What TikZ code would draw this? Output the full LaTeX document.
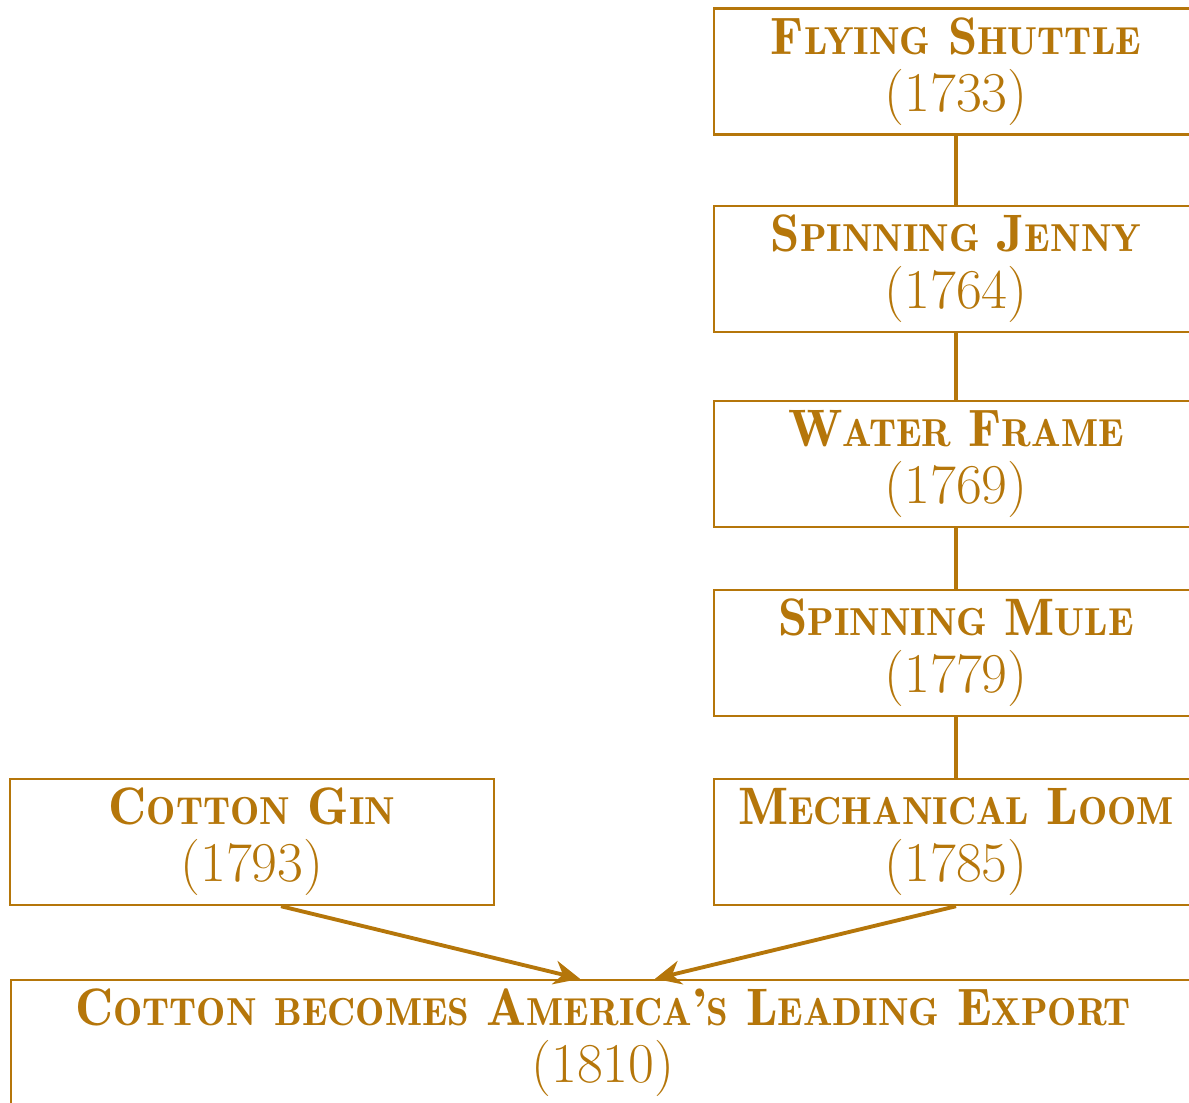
\documentclass[tikz,border=0pt]{standalone}
\usetikzlibrary{arrows.meta, calc}
\definecolor{gold}{RGB}{181,118,10}
\newcommand\fsc[2]{#1{\fontsize{11.1}{14}\selectfont #2}}
\newcommand\ttl[1]{{\fontseries{b}\selectfont #1}}
\newcommand\yr[1]{{\fontsize{16}{16.2}\selectfont(#1)}}

\begin{document}
\begin{tikzpicture}[box/.style={draw=gold, line width=0.7pt, minimum width=4.84cm, minimum height=1.26cm, align=center, text=gold, font=\fontsize{15}{16.2}\selectfont, inner sep=0pt}, link/.style={draw=gold, line width=1.1pt}, arr/.style={-{Stealth[length=2.6mm, width=2.4mm]}, draw=gold, line width=1.1pt}]
\useasboundingbox (0,0) rectangle (11.89,-11.03);

\node[box] (shuttle) at (9.56,-0.715) {\ttl{\fsc{F}{LYING} \fsc{S}{HUTTLE}}\\\yr{1733}};
\node[box] (jenny) at (9.56,-2.69) {\ttl{\fsc{S}{PINNING} \fsc{J}{ENNY}}\\\yr{1764}};
\node[box] (water) at (9.56,-4.64) {\ttl{\fsc{W}{ATER} \fsc{F}{RAME}}\\\yr{1769}};
\node[box] (mule) at (9.56,-6.53) {\ttl{\fsc{S}{PINNING} \fsc{M}{ULE}}\\\yr{1779}};
\node[box] (loom) at (9.56,-8.42) {\ttl{\fsc{M}{ECHANICAL} \fsc{L}{OOM}}\\\yr{1785}};
\node[box] (gin) at (2.52,-8.42) {\ttl{\fsc{C}{OTTON} \fsc{G}{IN}}\\\yr{1793}};
\node[box, minimum width=11.84cm] (export) at (6.03,-10.43) {\ttl{\fsc{C}{OTTON} \fsc{}{BECOMES} \fsc{A}{MERICA}’\fsc{}{S} \fsc{L}{EADING} \fsc{E}{XPORT}}\\\yr{1810}};

\draw[link] (shuttle) -- (jenny); \draw[link] (jenny) -- (water); \draw[link] (water) -- (mule); \draw[link] (mule) -- (loom);
\draw[arr] ($(gin.south)+(0.29,0)$) -- ($(export.north)+(-0.23,0)$);
\draw[arr] (loom.south) -- ($(export.north)+(0.52,0)$);
\end{tikzpicture}
\end{document}
